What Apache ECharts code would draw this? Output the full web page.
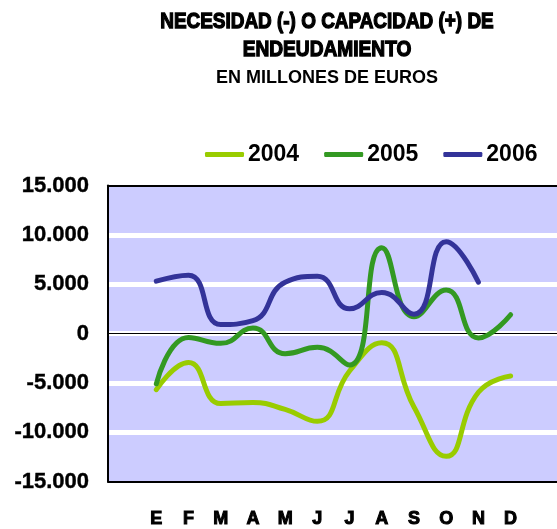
<!DOCTYPE html>
<html>
<head>
<meta charset="utf-8">
<script src="https://cdn.jsdelivr.net/npm/echarts@6/dist/echarts.min.js"></script>
<style>
    html, body { margin: 0; padding: 0; background: #fff; }
    #chart { width: 557px; height: 529px; }
</style>
</head>
<body>
<div id="chart"></div>
<script>
var months = ['E', 'F', 'M', 'A', 'M', 'J', 'J', 'A', 'S', 'O', 'N', 'D'];
var years = ['2004', '2005', '2006'];
var values2004 = [-5700, -2950, -7100, -7000, -7700, -8900, -3800, -950, -7450, -12450, -5950, -4300];
var values2005 = [-5100, -400, -1000, 550, -2050, -1400, -3200, 8700, 1700, 4400, -450, 1900];
var values2006 = [5300, 5900, 900, 1300, 5200, 5800, 2500, 4150, 1950, 9300, 5200];
var yTicks = [-15000, -10000, -5000, 0, 5000, 10000, 15000];
var colors = ['#99cc00', '#339922', '#333399'];

var fontFam = 'Liberation Sans, Arial, sans-serif';

function toPoints(values) {
    var pts = [];
    for (var i = 0; i < values.length; i++) {
        pts.push([i, values[i]]);
    }
    return pts;
}

function fmtNumber(v) {
    var s = String(Math.abs(v));
    s = s.replace(/\B(?=(\d{3})+(?!\d))/g, '.');
    return (v < 0 ? '-' : '') + s;
}

var chart = echarts.init(document.getElementById('chart'));

var allValues = [values2004, values2005, values2006];
var series = [];
for (var k = 0; k < years.length; k++) {
    var s = {
        name: years[k],
        type: 'line',
        xAxisIndex: 0,
        data: toPoints(allValues[k]),
        smooth: 0.5,
        showSymbol: false,
        symbol: 'none',
        lineStyle: { color: colors[k], width: 5, cap: 'round' },
        itemStyle: { color: colors[k] },
        z: 3 + k
    };
    if (k === 0) {
        // thin zero line across the plot
        s.markLine = {
            silent: true,
            symbol: 'none',
            label: { show: false },
            lineStyle: { color: '#000', width: 1, type: 'solid' },
            data: [{ yAxis: 0 }],
            z: 1
        };
    }
    series.push(s);
}

// title lines: heavy, slightly condensed
function titleLine(text, y, size, sx, stroke) {
    return {
        type: 'text',
        x: 327,
        y: y,
        scaleX: sx,
        originX: 0,
        style: {
            text: text,
            font: 'bold ' + size + 'px ' + fontFam,
            fill: '#000',
            stroke: stroke ? '#000' : null,
            lineWidth: stroke ? 1.3 : 0,
            align: 'center',
            verticalAlign: 'middle'
        }
    };
}

chart.setOption({
    animation: false,
    backgroundColor: '#ffffff',
    graphic: [
        titleLine('NECESIDAD (-) O CAPACIDAD (+) DE', 22, 22, 0.86, true),
        titleLine('ENDEUDAMIENTO', 50, 22, 0.87, true),
        titleLine('EN MILLONES DE EUROS', 78, 18, 1, false)
    ],
    legend: {
        data: years,
        left: 205,
        top: 143,
        padding: 0,
        icon: 'roundRect',
        itemWidth: 39,
        itemHeight: 5,
        itemGap: 25,
        textStyle: {
            fontFamily: fontFam,
            fontWeight: 'bold',
            fontSize: 23,
            color: '#000',
            padding: [0, 0, 0, -1]
        }
    },
    grid: {
        left: 108,
        top: 185.5,
        right: 0,
        height: 300,
        show: true,
        backgroundColor: '#ccccff',
        borderWidth: 0,
        containLabel: false
    },
    xAxis: [
        {
            type: 'value',
            position: 'bottom',
            min: -1.5,
            max: 12.44,
            axisLine: { show: true, onZero: false, lineStyle: { color: '#000', width: 2 } },
            axisTick: { show: false },
            splitLine: { show: false },
            axisLabel: {
                customValues: [0, 1, 2, 3, 4, 5, 6, 7, 8, 9, 10, 11],
                formatter: function (v) { return months[Math.round(v)]; },
                margin: 29,
                color: '#000',
                fontFamily: fontFam,
                fontWeight: 'bold',
                fontSize: 18,
                textBorderColor: '#000',
                textBorderWidth: 1
            }
        },
        {
            // top border of the plot
            type: 'value',
            position: 'top',
            min: -1.5,
            max: 12.44,
            axisLine: { show: true, onZero: false, lineStyle: { color: '#000', width: 2 } },
            axisTick: { show: false },
            axisLabel: { show: false },
            splitLine: { show: false }
        }
    ],
    yAxis: {
        type: 'value',
        min: yTicks[0],
        max: yTicks[yTicks.length - 1],
        interval: 5000,
        axisLine: { show: true, onZero: false, lineStyle: { color: '#000', width: 2 } },
        axisTick: { show: false },
        splitLine: {
            show: true,
            showMinLine: false,
            showMaxLine: false,
            lineStyle: { color: '#ffffff', width: 5 }
        },
        axisLabel: {
            formatter: fmtNumber,
            margin: 19,
            color: '#000',
            fontFamily: fontFam,
            fontWeight: 'bold',
            fontSize: 22,
            textBorderColor: '#000',
            textBorderWidth: 0.4
        }
    },
    series: series
});
</script>
</body>
</html>
